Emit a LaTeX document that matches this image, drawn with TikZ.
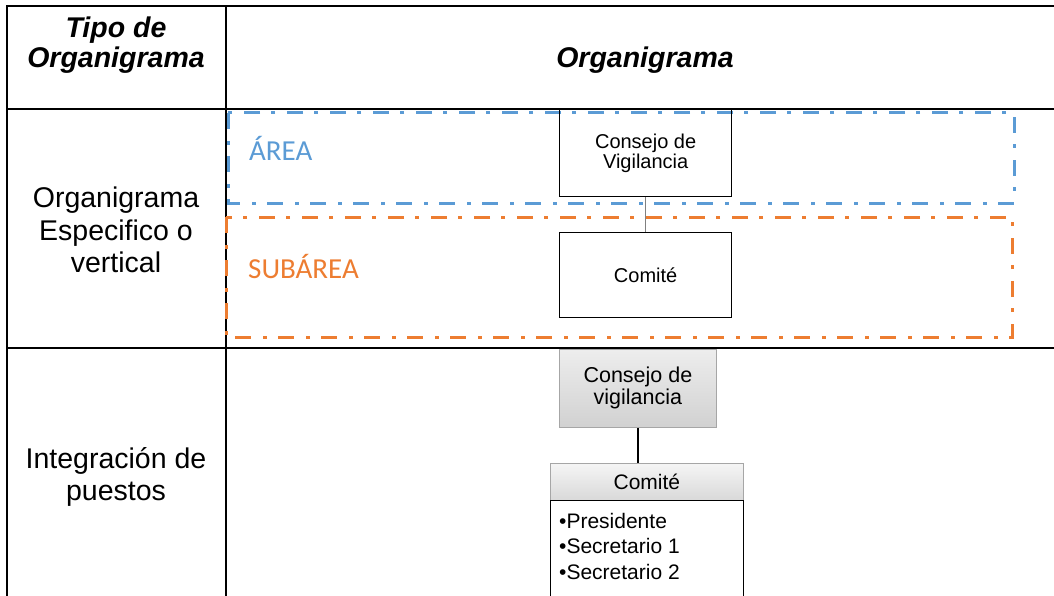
\documentclass[tikz,border=0pt]{standalone}
\usepackage{fontspec}
\setmainfont{Liberation Sans}
\newfontfamily\calibri{Carlito}
\definecolor{offblue}{HTML}{5B9BD5}
\definecolor{offorange}{HTML}{ED7D31}
\begin{document}
\begin{tikzpicture}[x=1pt,y=-1pt,
  tbl/.style={line width=2pt, black},
  zone/.style={line width=3pt, dash pattern=on 16pt off 12pt on 4pt off 11pt},
  bigtext/.style={align=center, inner sep=0pt, font=\fontsize{28.5}{32.5}\selectfont},
  headtext/.style={align=center, inner sep=0pt, font=\fontsize{28.5}{30}\selectfont\bfseries\itshape},
  plainbox/.style={draw, line width=1.3pt, inner sep=0pt, align=center, anchor=north west,
    minimum width=172pt, font=\fontsize{20}{20}\selectfont},
  graybox/.style={draw=gray!70, line width=0.8pt, inner sep=0pt, align=center, anchor=north west,
    top color=gray!14, bottom color=gray!36, font=\fontsize{21.5}{22}\selectfont},
  zonelabel/.style={inner sep=0pt, anchor=west, font=\fontsize{29}{29}\selectfont\calibri}
]
\useasboundingbox (0,0) rectangle (1054,596);
\begin{scope}
\clip (0,0) rectangle (1054,596);
% table grid
\draw[tbl] (7,620) -- (7,6) -- (1070,6);
\draw[tbl] (226,6) -- (226,620);
\draw[tbl] (7,109) -- (1070,109);
\draw[tbl] (7,348) -- (1070,348);
% header
\node[headtext, anchor=north] (h1) at (116,17) {Tipo de\\Organigrama};
\node[headtext] (h2) at (645,60) {Organigrama};
% left column
\node[bigtext] (r1) at (116,230) {Organigrama\\Especifico o\\vertical};
\node[bigtext] (r2) at (116,477) {Integración de\\puestos};
% dashed zones
\draw[zone, offblue] (228,113) rectangle (1014,203);
\draw[zone, offorange] (226,217) rectangle (1012,337);
\node[zonelabel, text=offblue] (area) at (249,148) {ÁREA};
\node[zonelabel, text=offorange] (subarea) at (248,266) {SUBÁREA};
% vertical chart
\node[plainbox, minimum height=87pt] (cv) at (559,109) {Consejo de\\Vigilancia};
\node[plainbox, minimum height=85pt] (com) at (559,232) {Comité};
\draw[gray, line width=1pt] (cv.south) -- (com.north);
% integration
\node[graybox, minimum width=157pt, minimum height=78pt] (gcv) at (559,349) {Consejo de\\vigilancia};
\node[graybox, minimum width=193pt, minimum height=37pt, top color=gray!8, bottom color=gray!30, font=\fontsize{21}{21}\selectfont] (gcom) at (550,463) {Comité};
\node[draw, line width=1.3pt, inner sep=0pt, anchor=north west, minimum width=193pt, minimum height=120pt] (lst) at (550,500) {};
\node[inner sep=0pt, anchor=north west, align=left, font=\fontsize{21}{25.5}\selectfont] (items) at (559,513) {•Presidente\\•Secretario 1\\•Secretario 2};
\draw[black, line width=1.3pt] (gcv.south) -- (gcv.south |- gcom.north);
\end{scope}
\end{tikzpicture}
\end{document}
